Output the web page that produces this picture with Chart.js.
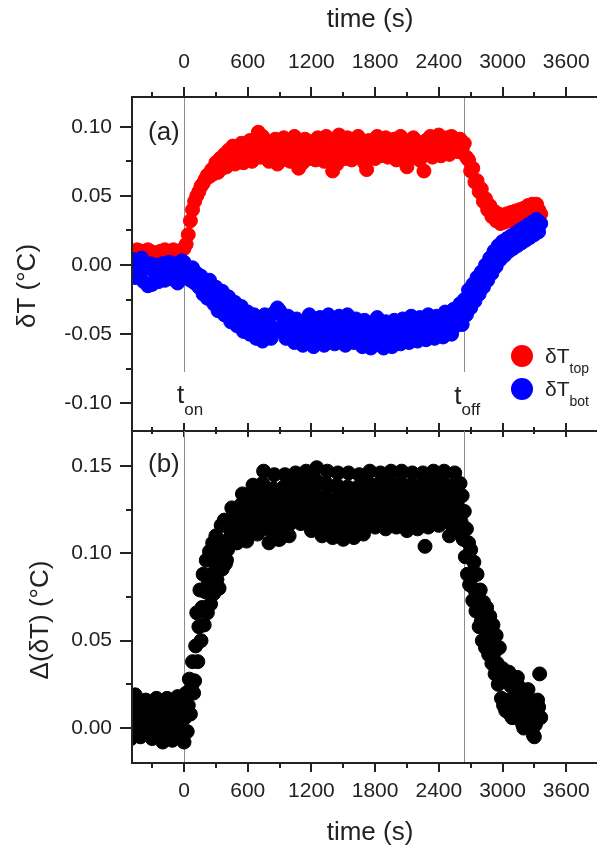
<!DOCTYPE html>
<html>
<head>
<meta charset="utf-8">
<script src="https://cdn.jsdelivr.net/npm/chart.js@4.4.1/dist/chart.umd.min.js"></script>
<style>
    html, body { margin: 0; padding: 0; background: #fff; }
    #wrap { position: relative; width: 597px; height: 854px; overflow: hidden; }
    canvas { position: absolute; left: 0; }
    #top-canvas { top: 0; }
    #bot-canvas { top: 422px; }
</style>
</head>
<body>
<div id="wrap">
    <canvas id="top-canvas" width="597" height="440"></canvas>
    <canvas id="bot-canvas" width="597" height="432"></canvas>
</div>
<script>
// sampling of the series (s)
var tStart = -500;
var stepT = 20;     // dT top / bottom
var stepD = 10;     // Delta(dT)
var tOn = 0;
var tOff = 2640;

var timeTicks = [0, 600, 1200, 1800, 2400, 3000, 3600];
var timeMinor = [-300, 300, 900, 1500, 2100, 2700, 3300];
var dTTicks = [-0.10, -0.05, 0.00, 0.05, 0.10];
var dTMinor = [-0.075, -0.025, 0.025, 0.075];
var ddTTicks = [0.00, 0.05, 0.10, 0.15];
var ddTMinor = [0.025, 0.075, 0.125];

// dT top (degC), every 20 s from -500 s
var dTtop = [
    0.009, 0.010, 0.008, 0.011, 0.009, 0.010, 0.007, 0.009, 0.011, 0.010, 0.008, 0.009, 0.007,
    0.008, 0.010, 0.009, 0.011, 0.009, 0.008, 0.010, 0.011, 0.009, 0.008, 0.010, 0.011,
    // 0 s
    0.012, 0.015, 0.022, 0.032, 0.040, 0.046, 0.050, 0.053, 0.057, 0.059,
    0.062, 0.065, 0.064, 0.069, 0.066, 0.074, 0.067, 0.077, 0.070, 0.080,
    0.071, 0.083, 0.077, 0.086, 0.073, 0.084, 0.079, 0.088, 0.074, 0.085,
    0.080, 0.090, 0.075, 0.087, 0.081, 0.096, 0.078, 0.093, 0.084, 0.089,
    0.075, 0.086, 0.080, 0.091, 0.073,
    // 900 s
    0.086, 0.076, 0.092, 0.081, 0.089, 0.075, 0.084, 0.093, 0.079, 0.070,
    0.087, 0.074, 0.091, 0.082, 0.077, 0.089, 0.083, 0.076, 0.092, 0.080,
    0.087, 0.075, 0.093, 0.082, 0.078, 0.068, 0.086, 0.073, 0.094, 0.081,
    0.089, 0.077, 0.092, 0.084, 0.076, 0.088, 0.081, 0.093, 0.078, 0.085,
    0.074, 0.069, 0.090, 0.081, 0.086, 0.077, 0.093, 0.083, 0.079, 0.089,
    0.092, 0.078, 0.085, 0.081, 0.091, 0.076, 0.088, 0.093, 0.080, 0.084,
    0.071, 0.087, 0.078, 0.092, 0.082, 0.089, 0.076, 0.085, 0.068, 0.090,
    0.081, 0.093, 0.078, 0.087, 0.083, 0.094, 0.079, 0.089, 0.084, 0.092,
    0.080, 0.093, 0.085, 0.091, 0.082,
    // 2600 s
    0.091, 0.084, 0.088, 0.078, 0.076, 0.068, 0.070, 0.060, 0.061, 0.053,
    0.055, 0.046, 0.048, 0.040, 0.043, 0.035, 0.039, 0.032, 0.037, 0.030,
    0.036, 0.031, 0.037, 0.032, 0.038, 0.033, 0.039, 0.035, 0.040, 0.036,
    0.041, 0.038, 0.043, 0.039, 0.044, 0.041, 0.044, 0.040, 0.037
];

// dT bottom (degC), every 20 s from -500 s
var dTbot = [
    -0.006, 0.004, -0.009, 0.002, -0.006, 0.005, -0.012, -0.002, -0.015, 0.001, -0.014, -0.005, 0.000,
    -0.012, -0.003, 0.001, -0.011, -0.004, 0.002, -0.010, -0.005, 0.001, -0.013, -0.002, 0.003,
    // 0 s
    0.002, -0.008, -0.003, -0.011, -0.002, -0.013, -0.006, -0.016, -0.008, -0.021,
    -0.012, -0.024, -0.011, -0.019, -0.028, -0.016, -0.033, -0.024, -0.019, -0.036,
    -0.028, -0.023, -0.041, -0.032, -0.027, -0.044, -0.036, -0.030, -0.048, -0.040,
    -0.034, -0.050, -0.043, -0.036, -0.053, -0.046, -0.040, -0.055, -0.036, -0.049,
    -0.042, -0.053, -0.035, -0.046, -0.031,
    // 900 s
    -0.033, -0.048, -0.040, -0.053, -0.037, -0.050, -0.044, -0.056, -0.039, -0.051,
    -0.045, -0.058, -0.041, -0.052, -0.036, -0.047, -0.059, -0.043, -0.054, -0.038,
    -0.049, -0.058, -0.044, -0.036, -0.052, -0.041, -0.057, -0.047, -0.037, -0.053,
    -0.043, -0.058, -0.036, -0.049, -0.044, -0.056, -0.039, -0.051, -0.046, -0.059,
    -0.040, -0.053, -0.047, -0.060, -0.042, -0.055, -0.038, -0.050, -0.045, -0.060,
    -0.041, -0.054, -0.048, -0.059, -0.040, -0.052, -0.046, -0.057, -0.039, -0.050,
    -0.044, -0.056, -0.037, -0.049, -0.043, -0.055, -0.038, -0.050, -0.045, -0.054,
    -0.036, -0.048, -0.042, -0.053, -0.037, -0.046, -0.041, -0.052, -0.034, -0.045,
    -0.039, -0.050, -0.032, -0.044, -0.037,
    // 2600 s
    -0.028, -0.043, -0.025, -0.036, -0.018, -0.031, -0.014, -0.026, -0.009, -0.021,
    -0.005, -0.016, 0.000, -0.011, 0.005, -0.006, 0.010, -0.001, 0.014, 0.004,
    0.017, 0.007, 0.019, 0.010, 0.021, 0.012, 0.023, 0.014, 0.025, 0.016,
    0.027, 0.018, 0.029, 0.020, 0.031, 0.022, 0.033, 0.024, 0.030
];

// Delta(dT) (degC), every 10 s from -500 s
var ddT = [
    -0.006, 0.000, 0.006, 0.013, 0.019, 0.014, 0.009, 0.004, -0.001, -0.005,
    -0.004, 0.001, 0.006, 0.011, 0.016, 0.012, 0.008, 0.004, 0.000, -0.003,
    -0.006, 0.000, 0.006, 0.011, 0.017, 0.012, 0.008, 0.003, -0.001, -0.005,
    -0.008, -0.002, 0.005, 0.011, 0.017, 0.012, 0.007, 0.002, -0.003, -0.007,
    -0.006, 0.000, 0.006, 0.012, 0.018, 0.013, 0.008, 0.004, -0.001, -0.005,
    // 0 s
    -0.008, 0.006, 0.020, -0.002, 0.013, 0.028, 0.008, 0.023, 0.038, 0.020,
    0.027, 0.047, 0.066, 0.038, 0.058, 0.079, 0.050, 0.069, 0.088, 0.059,
    0.078, 0.096, 0.066, 0.084, 0.101, 0.071, 0.088, 0.106, 0.077, 0.095,
    0.110, 0.085, 0.099, 0.080, 0.102, 0.116, 0.091, 0.105, 0.119, 0.094,
    0.096, 0.102, 0.108, 0.114, 0.120, 0.126, 0.121, 0.115, 0.110, 0.106,
    0.106, 0.112, 0.117, 0.123, 0.128, 0.134, 0.127, 0.120, 0.113, 0.107,
    0.110, 0.116, 0.122, 0.127, 0.133, 0.139, 0.132, 0.125, 0.117, 0.111,
    0.112, 0.119, 0.126, 0.133, 0.140, 0.147, 0.138, 0.130, 0.121, 0.114,
    0.106, 0.114, 0.122, 0.129, 0.137, 0.145, 0.135, 0.126, 0.116, 0.108,
    0.108, 0.115, 0.123, 0.130, 0.138, 0.145, 0.136, 0.127, 0.117, 0.110,
    // 1000 s
    0.117, 0.123, 0.129, 0.134, 0.140, 0.146, 0.139, 0.132, 0.124, 0.118,
    0.117, 0.123, 0.129, 0.135, 0.141, 0.147, 0.140, 0.132, 0.125, 0.119,
    0.113, 0.120, 0.127, 0.135, 0.142, 0.149, 0.140, 0.131, 0.122, 0.115,
    0.110, 0.117, 0.125, 0.132, 0.140, 0.147, 0.138, 0.129, 0.119, 0.112,
    0.109, 0.116, 0.124, 0.131, 0.139, 0.146, 0.137, 0.128, 0.118, 0.111,
    0.108, 0.116, 0.123, 0.131, 0.138, 0.146, 0.137, 0.127, 0.118, 0.110,
    0.109, 0.116, 0.123, 0.131, 0.138, 0.145, 0.136, 0.127, 0.118, 0.111,
    0.114, 0.121, 0.127, 0.134, 0.140, 0.147, 0.139, 0.131, 0.122, 0.116,
    0.115, 0.121, 0.127, 0.134, 0.140, 0.146, 0.138, 0.131, 0.123, 0.117,
    0.114, 0.121, 0.127, 0.134, 0.140, 0.147, 0.139, 0.131, 0.122, 0.116,
    // 2000 s
    0.115, 0.121, 0.128, 0.134, 0.141, 0.147, 0.139, 0.131, 0.123, 0.117,
    0.113, 0.120, 0.126, 0.133, 0.139, 0.146, 0.138, 0.130, 0.121, 0.115,
    0.114, 0.120, 0.127, 0.133, 0.140, 0.146, 0.138, 0.104, 0.122, 0.116,
    0.115, 0.121, 0.128, 0.134, 0.141, 0.147, 0.139, 0.131, 0.123, 0.117,
    0.116, 0.122, 0.128, 0.135, 0.141, 0.147, 0.139, 0.132, 0.124, 0.118,
    0.110, 0.117, 0.124, 0.132, 0.139, 0.146, 0.137, 0.128, 0.119, 0.112,
    0.140, 0.118, 0.133, 0.108, 0.124, 0.098, 0.114, 0.088, 0.106, 0.082,
    0.102, 0.086, 0.073, 0.095, 0.079, 0.067, 0.088, 0.071, 0.058, 0.079,
    0.061, 0.050, 0.072, 0.057, 0.046, 0.069, 0.053, 0.042, 0.064, 0.049,
    0.037, 0.059, 0.043, 0.031, 0.053, 0.037, 0.025, 0.046, 0.030, 0.017,
    // 3000 s
    0.034, 0.013, 0.030, 0.010, 0.027, 0.016, 0.032, 0.008, 0.024, 0.006,
    0.006, 0.012, 0.018, 0.024, 0.029, 0.024, 0.018, 0.012, 0.006, 0.002,
    0.000, 0.005, 0.011, 0.016, 0.022, 0.016, 0.011, 0.005, 0.000, -0.004,
    -0.005, 0.002, 0.009, 0.016, 0.012, 0.031, 0.006
];

var FONT = "'Liberation Sans', Arial, sans-serif";
var INK = '#222222';
Chart.defaults.font.family = FONT;
Chart.defaults.color = INK;

function points(values, step) {
    return values.map(function (v, i) { return { x: tStart + i * step, y: v }; });
}

function setTicks(list) {
    return function (scale) { scale.ticks = list.map(function (v) { return { value: v }; }); };
}

function tickMarks(ctx, scale, values, fixed, before, after, horizontal) {
    values.forEach(function (v) {
        var p = Math.round(scale.getPixelForValue(v));
        if (horizontal) { ctx.moveTo(p, fixed - before); ctx.lineTo(p, fixed + after); }
        else { ctx.moveTo(fixed - before, p); ctx.lineTo(fixed + after, p); }
    });
}

function subText(ctx, x, y, main, sub, size, subSize, drop) {
    ctx.textAlign = 'left';
    ctx.textBaseline = 'alphabetic';
    ctx.font = size + 'px ' + FONT;
    ctx.fillText(main, x, y);
    var w = ctx.measureText(main).width;
    ctx.font = subSize + 'px ' + FONT;
    ctx.fillText(sub, x + w, y + drop);
}

function label(ctx, text, x, y, size, rotate) {
    ctx.save();
    ctx.translate(x, y);
    if (rotate) ctx.rotate(-Math.PI / 2);
    ctx.font = size + 'px ' + FONT;
    ctx.textAlign = 'center';
    ctx.textBaseline = 'middle';
    ctx.fillText(text, 0, 0);
    ctx.restore();
}

// t_on / t_off markers, under the points
function markerLines(endTop) {
    return {
        id: 'markers',
        beforeDatasetsDraw: function (chart) {
            var ctx = chart.ctx, a = chart.chartArea, x = chart.scales.x;
            ctx.save();
            ctx.strokeStyle = '#8c8c8c';
            ctx.lineWidth = 1;
            ctx.beginPath();
            [tOn, tOff].forEach(function (t) {
                var px = Math.round(x.getPixelForValue(t)) + 0.5;
                ctx.moveTo(px, a.top);
                ctx.lineTo(px, endTop || a.bottom);
            });
            ctx.stroke();
            ctx.restore();
        }
    };
}

var topDecor = {
    id: 'topDecor',
    afterDraw: function (chart) {
        var ctx = chart.ctx, a = chart.chartArea, x = chart.scales.x, y = chart.scales.y;
        ctx.save();
        ctx.strokeStyle = INK;
        ctx.lineWidth = 2;
        ctx.beginPath();
        ctx.moveTo(a.left, a.top); ctx.lineTo(a.right, a.top);
        ctx.moveTo(a.left, a.bottom); ctx.lineTo(a.right, a.bottom);
        ctx.moveTo(a.left, a.top - 1); ctx.lineTo(a.left, a.bottom + 1);
        tickMarks(ctx, x, timeTicks, a.top, 10, 0, true);
        tickMarks(ctx, x, timeMinor, a.top, 5, 0, true);
        tickMarks(ctx, x, timeTicks, a.bottom, 8, 6, true);
        tickMarks(ctx, x, timeMinor, a.bottom, 4, 3, true);
        tickMarks(ctx, y, dTTicks, a.left, 12, 0, false);
        tickMarks(ctx, y, dTMinor, a.left, 6, 0, false);
        ctx.stroke();

        ctx.fillStyle = INK;
        label(ctx, 'time (s)', 370, 20, 26, false);
        label(ctx, 'δT (°C)', 28, 286, 26, true);
        ctx.font = '26px ' + FONT;
        ctx.textAlign = 'left';
        ctx.textBaseline = 'middle';
        ctx.fillText('(a)', a.left + 16, a.top + 36);

        var xOn = x.getPixelForValue(tOn), xOff = x.getPixelForValue(tOff);
        subText(ctx, xOn - 7, 403, 't', 'on', 26, 17, 12);
        subText(ctx, xOff - 10, 404, 't', 'off', 26, 17, 11);

        // legend
        var ds = chart.data.datasets;
        [[ds[1], 356, 'top'], [ds[0], 389, 'bot']].forEach(function (it) {
            ctx.fillStyle = it[0].backgroundColor;
            ctx.beginPath();
            ctx.arc(522, it[1], 11, 0, Math.PI * 2);
            ctx.fill();
            ctx.fillStyle = INK;
            subText(ctx, 545, it[1] + 7, 'δT', it[2], 21, 14, 10);
        });
        ctx.restore();
    }
};

var botDecor = {
    id: 'botDecor',
    afterDraw: function (chart) {
        var ctx = chart.ctx, a = chart.chartArea, x = chart.scales.x, y = chart.scales.y;
        ctx.save();
        ctx.strokeStyle = INK;
        ctx.lineWidth = 2;
        ctx.beginPath();
        ctx.moveTo(a.left, a.bottom); ctx.lineTo(a.right, a.bottom);
        ctx.moveTo(a.left, a.top); ctx.lineTo(a.left, a.bottom + 1);
        tickMarks(ctx, x, timeTicks, a.bottom, 0, 9, true);
        tickMarks(ctx, x, timeMinor, a.bottom, 0, 5, true);
        tickMarks(ctx, y, ddTTicks, a.left, 12, 0, false);
        tickMarks(ctx, y, ddTMinor, a.left, 6, 0, false);
        ctx.stroke();

        ctx.fillStyle = INK;
        label(ctx, 'time (s)', 370, 411, 26, false);
        label(ctx, 'Δ(δT) (°C)', 41, 198, 26, true);
        ctx.font = '26px ' + FONT;
        ctx.textAlign = 'left';
        ctx.textBaseline = 'middle';
        ctx.fillText('(b)', a.left + 16, a.top + 34);
        ctx.restore();
    }
};

function noPadding(s) {
    s.paddingTop = 0; s.paddingBottom = 0; s.paddingLeft = 0; s.paddingRight = 0;
}

function xAxis(position, height, pad) {
    return {
        type: 'linear', position: position, min: -490, max: 3890,
        afterFit: function (s) { s.height = height; noPadding(s); },
        afterBuildTicks: setTicks(timeTicks),
        grid: { display: false, drawTicks: false },
        border: { display: false },
        ticks: { autoSkip: false, maxRotation: 0, padding: pad, color: INK, font: { size: 21 },
                 callback: function (v) { return String(v); } },
        title: { display: false }
    };
}

function yAxis(min, max, list) {
    return {
        type: 'linear', position: 'left', min: min, max: max,
        afterFit: function (s) { s.width = 132; noPadding(s); },
        afterBuildTicks: setTicks(list),
        grid: { display: false, drawTicks: false },
        border: { display: false },
        ticks: { padding: 20, color: INK, font: { size: 21 },
                 callback: function (v) { return v.toFixed(2); } },
        title: { display: false }
    };
}

function series(label, values, step, color, order) {
    return {
        label: label,
        data: points(values, step),
        backgroundColor: color,
        borderColor: color,
        pointRadius: 7,
        pointHoverRadius: 7,
        pointBorderWidth: 1,
        order: order,
        clip: 0
    };
}

var common = {
    responsive: false,
    animation: false,
    events: [],
    plugins: { legend: { display: false }, tooltip: { enabled: false } }
};

new Chart(document.getElementById('top-canvas'), {
    type: 'scatter',
    data: {
        datasets: [
            series('δT bot', dTbot, stepT, '#0000ff', 1),
            series('δT top', dTtop, stepT, '#ff0000', 2)
        ]
    },
    options: Object.assign({}, common, {
        layout: { autoPadding: false, padding: { top: 0, bottom: 9, left: 0, right: 0 } },
        scales: { x: xAxis('top', 97, 22), y: yAxis(-0.12, 0.1215, dTTicks) }
    }),
    plugins: [markerLines(372), topDecor]
});

new Chart(document.getElementById('bot-canvas'), {
    type: 'scatter',
    data: {
        datasets: [ series('Δ(δT)', ddT, stepD, '#000000', 1) ]
    },
    options: Object.assign({}, common, {
        layout: { autoPadding: false, padding: { top: 9, bottom: 0, left: 0, right: 0 } },
        scales: { x: xAxis('bottom', 91, 16), y: yAxis(-0.02, 0.17, ddTTicks) }
    }),
    plugins: [markerLines(null), botDecor]
});
</script>
</body>
</html>
